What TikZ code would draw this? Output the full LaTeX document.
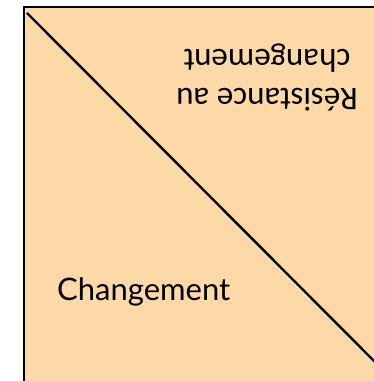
\documentclass[tikz,border=0pt]{standalone}
\usepackage{fontspec}
\newfontfamily\calib{Carlito}
\newfontfamily\gill{Lato}
\definecolor{peach}{RGB}{253,217,168}
\tikzset{
  frame/.style={line width=2pt, draw=black},
  diag/.style={line width=2.4pt, draw=black},
  lbl/.style={inner sep=0pt, text=black}
}
\begin{document}
\begin{tikzpicture}[x=1pt,y=1pt]
\useasboundingbox (0,0) rectangle (374,381);
\fill[peach] (24,-5) rectangle (380,374);
\draw[frame] (24,-5) -- (24,374) -- (380,374);
\coordinate (d1) at (27,368);
\coordinate (d2) at (380,14);
\draw[diag] (d1) -- (d2);
\node[lbl, anchor=base west, font=\gill\fontsize{31}{36}\selectfont] (chg) at (57,81) {Changement};
\node[lbl, rotate=180, align=center, font=\calib\fontsize{33}{39}\selectfont] (res) at (267,303) {Résistance au\\changement};
\end{tikzpicture}
\end{document}
